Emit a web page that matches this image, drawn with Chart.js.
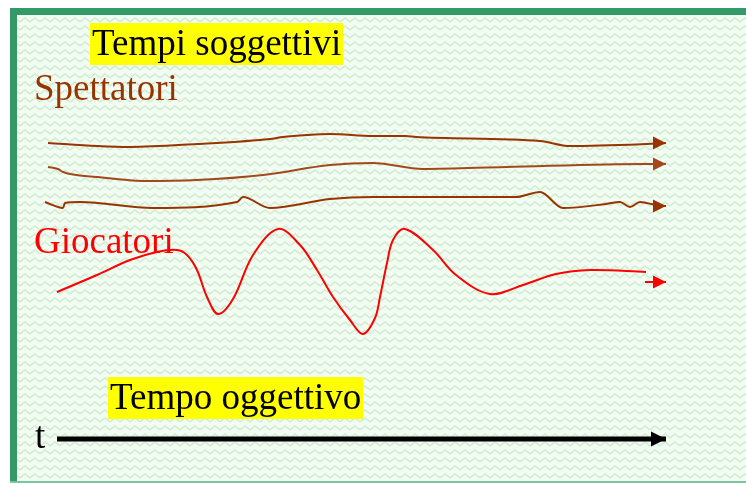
<!DOCTYPE html>
<html>
<head>
<meta charset="utf-8">
<script src="https://cdn.jsdelivr.net/npm/chart.js"></script>
<style>
    html, body { margin: 0; padding: 0; background: #ffffff; overflow: hidden; }
    #tempi { display: block; }
</style>
</head>
<body>
<canvas id="tempi" width="746" height="483"></canvas>
<script>
// tempo oggettivo (asse x) e tempi soggettivi (asse y, verso il basso)
const spettatore1X = [48, 97, 130, 197, 270, 283, 307, 330, 373, 406, 416, 540, 570, 646, 666];
const spettatore1Y = [143, 146, 147, 144, 139, 137, 135, 134, 136, 136, 137, 141, 146, 144, 143];

const spettatore2X = [48, 58, 63, 97, 143, 197, 263, 330, 373, 423, 506, 646, 666];
const spettatore2Y = [167, 169, 172, 177, 181, 180, 175, 165, 163, 169, 167, 164, 164];

const spettatore3X = [45, 63, 65, 80, 153, 237, 243, 270, 330, 373, 516, 540, 563, 606, 620, 630, 640, 656, 666];
const spettatore3Y = [202, 208, 203, 202, 208, 202, 197, 208, 199, 197, 197, 192, 208, 204, 202, 207, 202, 205, 206];

const giocatoriX = [57, 97, 130, 157, 177, 187, 197, 207, 218, 233, 253, 278, 300, 317, 333, 350,
    363, 375, 380, 387, 393, 405, 433, 456, 490, 523, 556, 590, 646];
const giocatoriY = [292, 275, 260, 252, 250, 255, 270, 297, 314, 299, 255, 229, 245, 270, 297, 320,
    334, 318, 297, 263, 240, 229, 250, 275, 294, 285, 274, 270, 272];

const freccaGiocatoriX = [645, 666];
const freccaGiocatoriY = [282, 282];

const tempoOggettivoX = [57, 666];
const tempoOggettivoY = [439, 439];

const scritte = ['Tempi soggettivi', 'Spettatori', 'Giocatori', 'Tempo oggettivo', 't'];

function toPoints(xs, ys) {
    return xs.map((x, i) => ({ x: x, y: ys[i] }));
}

function makePattern() {
    const tile = document.createElement('canvas');
    tile.width = 10;
    tile.height = 8;
    const c = tile.getContext('2d');
    c.fillStyle = '#f3fcf3';
    c.fillRect(0, 0, 10, 8);
    c.strokeStyle = '#cdeecf';
    c.lineWidth = 1.6;
    c.beginPath();
    c.moveTo(0, 6);
    c.lineTo(5, 2);
    c.lineTo(10, 6);
    c.stroke();
    return tile;
}

const slideBackground = {
    id: 'slideBackground',
    beforeDraw(chart) {
        const ctx = chart.ctx;
        ctx.save();
        ctx.fillStyle = '#ffffff';
        ctx.fillRect(0, 0, chart.width, chart.height);
        ctx.fillStyle = ctx.createPattern(makePattern(), 'repeat');
        ctx.fillRect(17, 15, chart.width - 17, 466);
        ctx.fillStyle = '#339966';
        ctx.fillRect(10, 8, chart.width - 10, 7);
        ctx.fillRect(10, 8, 7, 473);
        ctx.fillStyle = '#7cc49c';
        ctx.fillRect(10, 481, chart.width - 10, 2);
        ctx.restore();
    }
};

const labelsPlugin = {
    id: 'labelsPlugin',
    beforeDatasetsDraw(chart) {
        const ctx = chart.ctx;
        const sx = chart.scales.x;
        const sy = chart.scales.y;
        const items = [
            { text: scritte[0], x: 92, y: 55, color: '#000000', highlight: true },
            { text: scritte[1], x: 34, y: 100, color: '#993300' },
            { text: scritte[2], x: 34, y: 253, color: '#ff0000' },
            { text: scritte[3], x: 110, y: 409, color: '#000000', highlight: true },
            { text: scritte[4], x: 35, y: 448, color: '#000000' }
        ];
        ctx.save();
        ctx.font = '37px "Liberation Serif", "Times New Roman", serif';
        ctx.textBaseline = 'alphabetic';
        items.forEach(item => {
            const px = sx.getPixelForValue(item.x);
            const py = sy.getPixelForValue(item.y);
            if (item.highlight) {
                const w = ctx.measureText(item.text).width;
                ctx.fillStyle = '#ffff00';
                ctx.fillRect(px - 2, py - 32, w + 4, 42);
            }
            ctx.fillStyle = item.color;
            ctx.fillText(item.text, px, py);
        });
        ctx.restore();
    }
};

// punta di freccia all'ultimo punto di ogni serie
const arrowHeads = {
    id: 'arrowHeads',
    afterDatasetsDraw(chart) {
        const ctx = chart.ctx;
        chart.data.datasets.forEach((ds, i) => {
            if (!ds.arrowLength) return;
            const meta = chart.getDatasetMeta(i);
            const tip = meta.data[meta.data.length - 1];
            ctx.save();
            ctx.fillStyle = ds.borderColor;
            ctx.beginPath();
            ctx.moveTo(tip.x, tip.y);
            ctx.lineTo(tip.x - ds.arrowLength, tip.y - ds.arrowHalf);
            ctx.lineTo(tip.x - ds.arrowLength, tip.y + ds.arrowHalf);
            ctx.closePath();
            ctx.fill();
            ctx.restore();
        });
    }
};

function lineSet(xs, ys, color, width, extra) {
    return Object.assign({
        data: toPoints(xs, ys),
        borderColor: color,
        borderWidth: width,
        pointRadius: 0,
        fill: false,
        cubicInterpolationMode: 'monotone',
        arrowLength: 13,
        arrowHalf: 6.5
    }, extra || {});
}

new Chart(document.getElementById('tempi'), {
    type: 'line',
    data: {
        datasets: [
            lineSet(spettatore1X, spettatore1Y, '#993300', 2),
            lineSet(spettatore2X, spettatore2Y, '#a4481c', 2),
            lineSet(spettatore3X, spettatore3Y, '#993300', 2),
            lineSet(giocatoriX, giocatoriY, '#ff0000', 2, { arrowLength: 0, cubicInterpolationMode: 'default', tension: 0.35 }),
            lineSet(freccaGiocatoriX, freccaGiocatoriY, '#ff0000', 2),
            lineSet(tempoOggettivoX, tempoOggettivoY, '#000000', 5, { arrowLength: 15, arrowHalf: 7.5 })
        ]
    },
    options: {
        responsive: false,
        animation: false,
        layout: { padding: 0 },
        scales: {
            x: { type: 'linear', min: 0, max: 746, display: false },
            y: { type: 'linear', min: 0, max: 483, reverse: true, display: false }
        },
        plugins: {
            legend: { display: false },
            tooltip: { enabled: false }
        }
    },
    plugins: [slideBackground, labelsPlugin, arrowHeads]
});
</script>
</body>
</html>
